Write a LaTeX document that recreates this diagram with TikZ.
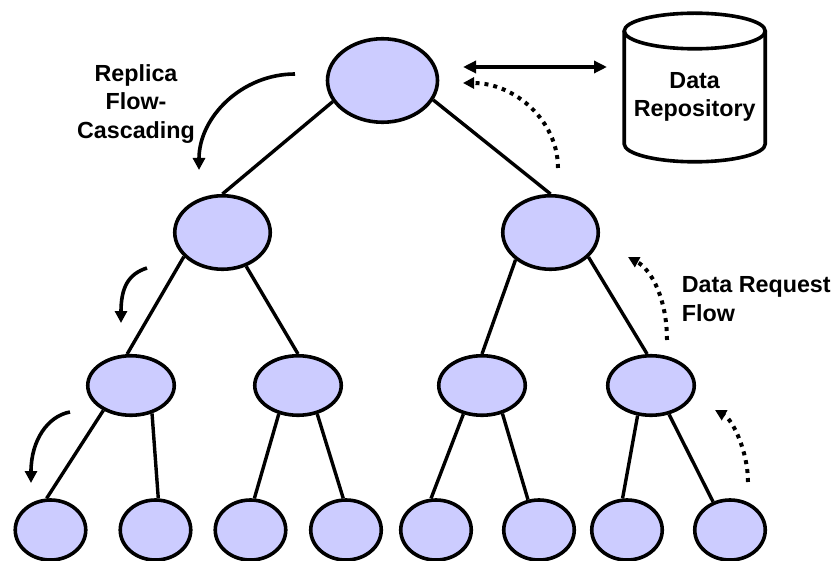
\documentclass[tikz,border=0pt]{standalone}
\usepackage{fontspec}
\setmainfont{Liberation Sans}
\usetikzlibrary{arrows.meta,shapes.geometric}
\definecolor{nodefill}{RGB}{204,204,255}
\begin{document}
\begin{tikzpicture}[x=1pt,y=-1pt,
  line width=3.6pt,
  treenode/.style={ellipse, draw=black, fill=nodefill, inner sep=0pt, line width=3.6pt},
  rootnode/.style={treenode, minimum width=110pt, minimum height=83.5pt},
  midnode/.style={treenode, minimum width=95.5pt, minimum height=73.5pt},
  lownode/.style={treenode, minimum width=86.5pt, minimum height=59.5pt},
  leafnode/.style={treenode, minimum width=70.5pt, minimum height=60pt},
  branch/.style={draw=black, line width=3.4pt},
  tipshape/.style={},
  flow/.style={-{Triangle[length=12pt,width=12pt]}, line width=3.6pt},
  dbl/.style={{Triangle[length=13pt,width=12pt]}-{Triangle[length=13pt,width=12pt]}, line width=3.4pt},
  request/.style={-{Triangle[length=11pt,width=11pt]}, line width=4pt, dash pattern=on 4pt off 5pt},
  txt/.style={font=\fontsize{23.3}{28.7}\selectfont\bfseries, inner sep=0pt},
]
\useasboundingbox (0,0) rectangle (837,561);

% tree nodes
\node[rootnode] (root) at (382.5,80.5) {};
\node[midnode] (m1) at (222.5,232.5) {};
\node[midnode] (m2) at (550.5,232.5) {};
\node[lownode] (l1) at (131,385.5) {};
\node[lownode] (l2) at (298,385.5) {};
\node[lownode] (l3) at (482,385.5) {};
\node[lownode] (l4) at (651,385.5) {};
\node[leafnode] (f1) at (50.5,530) {};
\node[leafnode] (f2) at (155.5,530) {};
\node[leafnode] (f3) at (250.5,530) {};
\node[leafnode] (f4) at (346,530) {};
\node[leafnode] (f5) at (436,530) {};
\node[leafnode] (f6) at (539,530) {};
\node[leafnode] (f7) at (627,530) {};
\node[leafnode] (f8) at (730,530) {};

% tree branches
\draw[branch] (root.203) -- (m1.90);
\draw[branch] (root.339) -- (m2.90);
\draw[branch] (m1.212) -- (l1.97);
\draw[branch] (m1.305) -- (l2.90);
\draw[branch] (m2.218) -- (l3.90);
\draw[branch] (m2.327) -- (l4.97);
\draw[branch] (l1.222) -- (f1.97);
\draw[branch] (l1.307) -- (f2.85);
\draw[branch] (l2.236) -- (f3.83);
\draw[branch] (l2.304) -- (f4.95);
\draw[branch] (l3.237) -- (f5.99);
\draw[branch] (l3.306) -- (f6.110);
\draw[branch] (l4.246) -- (f7.98);
\draw[branch] (l4.302) -- (f8.121);

% data repository cylinder
\draw[line width=3.6pt, fill=white] (624.2,31) -- (624.2,144)
  arc[start angle=180, end angle=0, x radius=70.5, y radius=17.8] -- (765.2,31);
\draw[line width=3.6pt] (694.7,31) ellipse [x radius=70.5, y radius=17.8];
\node[txt, align=center, anchor=north] (repo) at (694.7,70.3) {Data\\Repository};

% root <-> repository exchange
\coordinate (rootport) at (463,67);
\coordinate (repoport) at (607,67);
\draw[dbl] (rootport) -- (repoport);

% replica cascading arrows
\coordinate (ra1) at (295,74);   \coordinate (rb1) at (199,170);
\coordinate (ra2) at (147,268);  \coordinate (rb2) at (121,323);
\coordinate (ra3) at (70,412);   \coordinate (rb3) at (31,483);
\draw[flow] (ra1) .. controls (242,74) and (199,117) .. (rb1);
\draw[flow] (ra2) .. controls (128,274) and (121,288) .. (rb2);
\draw[flow] (ra3) .. controls (48,416) and (31,440) .. (rb3);
\node[txt, align=center, anchor=north] (replicatext) at (136,62.6) {Replica\\Flow-\\Cascading};

% data request arrows
\coordinate (qa1) at (558,168);  \coordinate (qb1) at (463,83);
\coordinate (qa2) at (667,340);  \coordinate (qb2) at (628,257);
\coordinate (qa3) at (748,482);  \coordinate (qb3) at (715,410);
\draw[request] (qa1) .. controls (558,121) and (515,83) .. (qb1);
\draw[request] (qa2) .. controls (667,300) and (652,270) .. (qb2);
\draw[request] (qa3) .. controls (748,452) and (733,420) .. (qb3);
\node[txt, align=left, anchor=north west] (reqtext) at (680,275) {Data Request\\Flow};
\end{tikzpicture}
\end{document}
